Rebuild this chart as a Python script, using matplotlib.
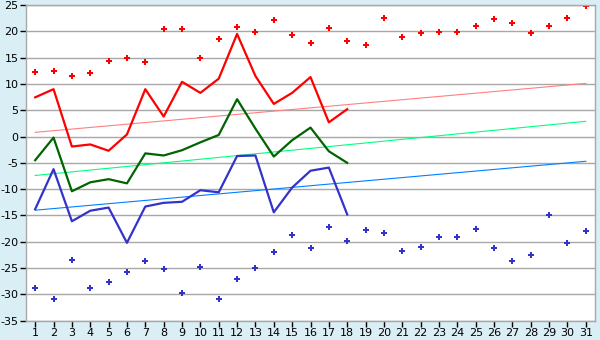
import numpy as np
import matplotlib
matplotlib.use("Agg")
import matplotlib.pyplot as plt

plt.rcParams["axes.unicode_minus"] = False

# days of the month
days = list(range(1, 32))
line_days = list(range(1, 19))

# scatter series (whole month)
max_pts = [12.2, 12.4, 11.6, 12.1, 14.3, 14.9, 14.1, 20.4, 20.4, 14.9,
           18.5, 20.8, 19.8, 22.1, 19.3, 17.7, 20.6, 18.1, 17.4, 22.5,
           18.9, 19.6, 19.8, 19.8, 21.1, 22.3, 21.5, 19.6, 21.1, 22.5, 24.8]
min_pts = [-28.7, -30.95, -23.5, -28.7, -27.7, -25.8, -23.7, -25.2, -29.8, -24.7,
           -30.9, -27.1, -24.9, -22.0, -18.8, -21.1, -17.1, -19.9, -17.8, -18.4,
           -21.8, -20.9, -19.0, -19.0, -17.6, -21.1, -23.7, -22.6, -15.0, -20.3, -18.0]

# line series (first 18 days)
high = [7.45, 9.0, -1.9, -1.5, -2.7, 0.4, 9.0, 3.8, 10.4, 8.3,
        11.0, 19.5, 11.5, 6.2, 8.3, 11.3, 2.7, 5.2]
mean = [-4.5, -0.2, -10.4, -8.7, -8.1, -8.9, -3.2, -3.6, -2.6, -1.1,
        0.3, 7.1, 1.5, -3.8, -0.7, 1.7, -2.8, -5.0]
low = [-13.8, -6.2, -16.1, -14.1, -13.5, -20.2, -13.3, -12.6, -12.4, -10.2,
       -10.6, -3.7, -3.6, -14.4, -9.7, -6.5, -5.9, -14.8]

# trend lines (value at day 1 and day 31)
trend_x = [1, 31]
trend_high = [0.8, 10.1]
trend_mean = [-7.4, 2.9]
trend_low = [-14.0, -4.7]

bg = "#d9eef5"
grid_col = "#a8a8a8"

fig = plt.figure(figsize=(6, 3.4), dpi=100, facecolor=bg)
ax = fig.add_axes([26 / 600, 1 - 320.7 / 340, 569 / 600, 315.7 / 340])
ax.set_facecolor("white")

# trends first, so they sit under the data
ax.plot(trend_x, trend_high, color="#ff8080", lw=0.8)
ax.plot(trend_x, trend_mean, color="#00ff80", lw=0.8)
ax.plot(trend_x, trend_low, color="#0080ff", lw=0.8)

ax.plot(line_days, high, color="#ff0000", lw=1.6)
ax.plot(line_days, mean, color="#006400", lw=1.6)
ax.plot(line_days, low, color="#3333cc", lw=1.6)

ax.plot(days, max_pts, ls="none", marker="P", ms=4.5, color="#ff0000", mew=0)
ax.plot(days, min_pts, ls="none", marker="P", ms=4.5, color="#3333cc", mew=0)

ax.set_xlim(0.5, 31.5)
ax.set_ylim(-35, 25)
ax.set_xticks(days)
ax.set_yticks(range(-35, 26, 5))
ax.yaxis.grid(True, color=grid_col, lw=1.0)
ax.set_axisbelow(True)

for s in ax.spines.values():
    s.set_color(grid_col)
    s.set_linewidth(1.0)

ax.tick_params(axis="both", colors="black", labelsize=8, length=4,
               width=1.0, pad=1.5)

fig.savefig("out.png", dpi=100, facecolor=bg)
